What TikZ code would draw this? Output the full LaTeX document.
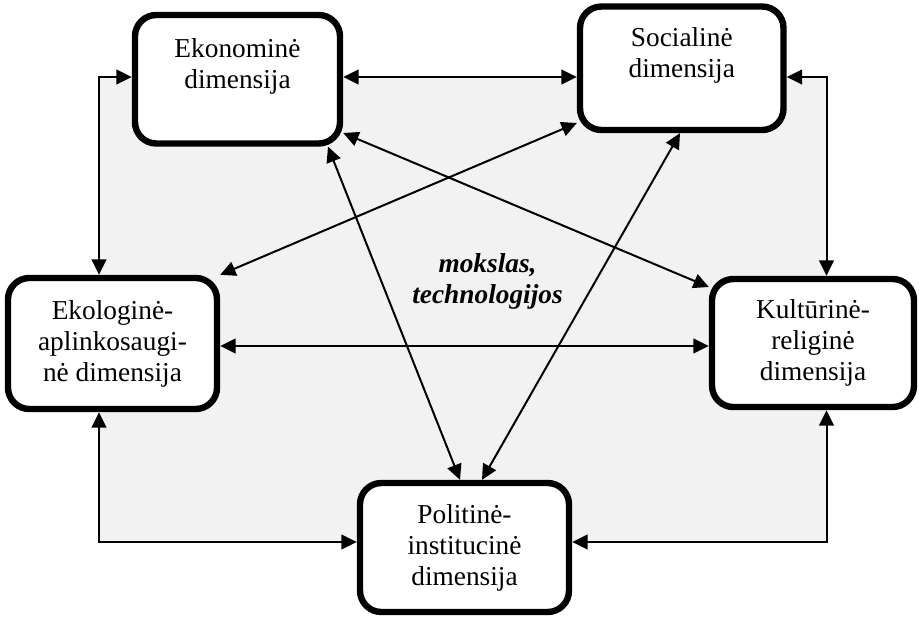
\documentclass[tikz,border=0pt]{standalone}
\usepackage{fontspec}
\setmainfont{Liberation Serif}
\usetikzlibrary{arrows.meta,calc}
\definecolor{bggray}{HTML}{F2F2F2}
\begin{document}
\begin{tikzpicture}[x=0.75pt,y=-0.75pt,
  dimbox/.style={draw=black, line width=4.8pt, rounded corners=16pt, fill=white,
    align=center, inner sep=0pt, font=\fontsize{20.5}{23.2}\selectfont},
  arr/.style={line width=1.5pt, {Triangle[length=11.5pt,width=11pt]}-{Triangle[length=11.5pt,width=11pt]}},
  lbl/.style={align=center, inner sep=0pt, font=\bfseries\itshape\fontsize{20.5}{23.2}\selectfont}
]
\useasboundingbox (0,0) rectangle (919,617);
\fill[bggray] (99,77) rectangle (826.5,542);

\node[dimbox, minimum width=153.75pt, minimum height=96.4pt] (eko) at (237.5,79.25) {Ekonominė\\dimensija\\\mbox{}};
\node[dimbox, minimum width=152.6pt, minimum height=92.6pt] (soc) at (681.75,68.25) {Socialinė\\dimensija\\\mbox{}};
\node[dimbox, minimum width=156.75pt, minimum height=98.25pt] (eco) at (112.5,343.5) {Ekologinė-\\aplinkosaugi-\\nė dimensija};
\node[dimbox, minimum width=151.5pt, minimum height=96pt] (kul) at (813,343) {Kultūrinė-\\religinė\\dimensija};
\node[dimbox, minimum width=156.75pt, minimum height=96.75pt] (pol) at (464.5,547.5) {Politinė-\\institucinė\\dimensija};

\node[lbl] (lab) at (487.5,281) {mokslas,\\technologijos};

\draw[arr] (eko.east |- 0,77) -- (soc.west |- 0,77);
\draw[arr] (eko.west |- 0,77) -| (eco.north -| 99,0);
\draw[arr] (soc.east |- 0,77) -| (kul.north -| 826.5,0);
\draw[arr] (eco.south -| 99,0) |- (pol.west |- 0,542);
\draw[arr] (kul.south -| 826.5,0) |- (pol.east |- 0,542);
\draw[arr] (eco.east |- 0,346) -- (kul.west |- 0,346);
\draw[arr] (eko.east |- 0,133) -- (kul.west |- 0,287);
\draw[arr] (soc.west |- 0,123) -- (eco.north east);
\draw[arr] (eko.south -| 328,0) -- (pol.north -| 460,0);
\draw[arr] (soc.south -| 680,0) -- (pol.north -| 482,0);
\end{tikzpicture}
\end{document}
